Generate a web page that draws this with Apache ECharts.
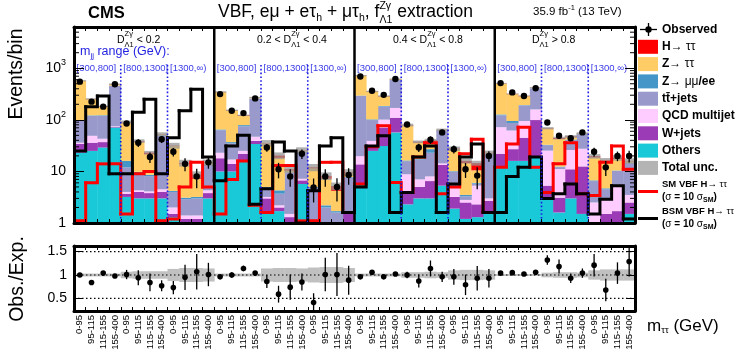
<!DOCTYPE html>
<html>
<head>
<meta charset="utf-8">
<script src="https://cdn.jsdelivr.net/npm/echarts@6/dist/echarts.min.js"></script>
<style>
  html, body { margin: 0; padding: 0; background: #fff; }
  #main { width: 747px; height: 357px; }
</style>
</head>
<body>
<div id="main"></div>
<script>
// 4 D regions x 3 mjj ranges x 4 mtt bins = 48 bins
var NB = 48;
var mttLabels = ["0-95", "95-115", "115-155", "155-400"];
var mjjLabels = ["[300,800]", "[800,1300]", "[1300,\u221e)"];

// background components, bottom to top of the stack
var others = [23, 25, 29, 71, 3.2, 3, 3, 3, 1.3, 1.0, 1.0, 3,
  10, 10, 16, 34, 1.6, 1.7, 0.3, 5.7, 0.2, 0.3, 0.2, 1,
  5.7, 25, 31, 57, 2.3, 3, 3, 5.3, 1.9, 1.2, 1.3, 1.6,
  12, 16, 16, 19, 3, 1.6, 3, 1.5, 0.2, 0.5, 0.2, 1.5];
var wjets = [11, 11, 8, 2, 0.5, 1, 0.8, 1.0, 0.2, 0.2, 0.2, 0.8,
  8, 4, 6, 5, 1.4, 0.3, 1.0, 1, 0.3, 0.1, 0.1, 0.5,
  8, 8, 40, 53, 1.5, 2, 3.5, 8, 1.3, 1.3, 1.0, 1.1,
  10, 11, 29, 80, 2.3, 1.5, 8, 11, 0.3, 1, 1.5, 1];
var qcd = [2, 13, 6, 2, 0.3, 0.3, 0.3, 0.5, 0.5, 0.2, 0.2, 0.5,
  5, 3, 3, 8, 0.2, 0.2, 0.2, 0.5, 0.3, 0.1, 0.1, 0.2,
  6, 6, 30, 60, 5, 2, 1.5, 1, 1.6, 0.3, 3, 0.3,
  50, 35, 50, 60, 20, 8, 15, 15, 2, 1.5, 3.5, 1];
var ttbar = [60, 70, 77, 380, 8, 5, 4, 45, 2, 1.5, 1.6, 9,
  40, 18, 50, 210, 1.6, 1.5, 8, 17, 4, 1.5, 1.2, 6,
  270, 60, 80, 420, 7, 10, 15, 47, 5, 0.5, 0.5, 19,
  50, 25, 95, 250, 7, 1, 15, 25, 4, 1.5, 5, 11];
var zll = [3, 3, 3, 5, 4, 0.5, 0.5, 1, 0.2, 0.2, 0.2, 0.3,
  2, 2, 4, 3, 0.2, 0.6, 0.1, 0.2, 0.2, 0.2, 0.1, 0.1,
  5, 3, 5, 3, 0.5, 0.5, 4, 1, 0.3, 0.2, 0.2, 0.2,
  5, 8, 3, 3, 0.5, 0.3, 0.5, 0.5, 0.2, 0.2, 0.2, 0.2];
var ztt = [470, 130, 57, 30, 74, 28, 13, 2, 27, 11, 4, 1,
  280, 115, 40, 10, 30, 14, 0.8, 1, 6.5, 5, 2.5, 1.5,
  420, 250, 100, 20, 62, 19, 12, 1, 17, 11, 4.5, 0.5,
  380, 220, 95, 10, 35, 30, 5, 1, 12, 11, 7, 1];
var htt = [2, 2, 3, 3, 0.5, 1, 1.5, 0.5, 0.5, 0.5, 1.5, 0.3,
  2, 1, 3, 1, 0.5, 2, 0.6, 0.3, 0.5, 1, 1, 0.3,
  3, 3, 3, 2, 1, 1, 1, 0.5, 0.5, 1.5, 4, 0.3,
  3, 3, 3, 2, 1, 2, 1, 0.5, 1, 0.5, 1, 0.3];

var observed = [550, 225, 180, 490, 85, 36, 19, 42, 24, 14, 8, 15,
  315, 150, 135, 260, 29, 11, 8, 22, 4.9, 8, 5, 8.5,
  690, 365, 305, 620, 81, 29, 41, 57, 27, 11, 8.3, 20,
  515, 340, 290, 410, 89, 49, 44, 57, 24, 12, 20, 20];

// signal templates (sigma = 10 sigma_SM)
var smVbf = [1.1, 6, 14, 14, 1.5, 9, 10, 1.1, 1.2, 5, 15, 5,
  1.5, 7, 16, 2.2, 1.6, 13, 13, 1.1, 1.1, 15, 15, 1.6,
  5.7, 30, 77, 6.1, 3.9, 19, 36, 3.7, 5, 22, 42, 1.6,
  12, 34, 72, 12, 3.9, 14, 36, 3.7, 3.4, 15, 31, 11];
var bsmVbf = [25, 180, 290, 9, 9, 140, 250, 9, 45, 150, 390, 19,
  6.6, 31, 50, 2.3, 4.6, 37, 25, 1.0, 4.2, 31, 45, 1.6,
  5, 31, 49, 1.6, 3.9, 19, 31, 1.6, 5.7, 19, 34, 1.6,
  1.6, 8, 12, 19, 3, 3.7, 5.7, 3.7, 1.5, 2.9, 5.3, 1.2];

// ratio panel
var ratio = [1.0, 0.84, 1.04, 0.98, 1.01, 0.94, 0.84, 0.77, 0.73, 0.95, 1.07, 1.01,
  0.96, 1.0, 1.14, 1.04, 0.86, 0.59, 0.74, 0.85, 0.41, 1.01, 1.01, 0.89,
  0.96, 1.06, 0.96, 1.02, 1.0, 0.87, 1.14, 0.96, 0.96, 0.79, 0.93, 0.93,
  1.04, 1.05, 1.02, 1.06, 1.32, 1.18, 0.93, 1.04, 1.21, 0.68, 1.04, 1.29];
var ratioErr = [0.03, 0.03, 0.03, 0.02, 0.1, 0.16, 0.19, 0.12, 0.14, 0.27, 0.38, 0.25,
  0.03, 0.06, 0.06, 0.03, 0.14, 0.18, 0.27, 0.18, 0.2, 0.36, 0.46, 0.31,
  0.03, 0.03, 0.03, 0.03, 0.07, 0.14, 0.17, 0.11, 0.17, 0.22, 0.26, 0.2,
  0.03, 0.03, 0.03, 0.03, 0.1, 0.15, 0.1, 0.1, 0.24, 0.24, 0.23, 0.32];
// relative total uncertainty of the expectation
var totUnc = [0.03, 0.03, 0.03, 0.03, 0.07, 0.08, 0.08, 0.08, 0.13, 0.15, 0.15, 0.14,
  0.03, 0.03, 0.03, 0.03, 0.14, 0.15, 0.15, 0.14, 0.16, 0.17, 0.17, 0.15,
  0.03, 0.03, 0.03, 0.03, 0.06, 0.06, 0.07, 0.06, 0.1, 0.11, 0.11, 0.1,
  0.02, 0.02, 0.02, 0.02, 0.05, 0.06, 0.06, 0.05, 0.1, 0.12, 0.12, 0.12];

var regionEdges = [12, 24, 36];
var mjjEdges = [4, 8, 16, 20, 28, 32, 40, 44];

var FF = '"Liberation Sans", Arial, Helvetica, sans-serif';

var comps = [
  { name: "Others", data: others, color: "#19c9d8" },
  { name: "W+jets", data: wjets, color: "#9b3cb6" },
  { name: "QCD multijet", data: qcd, color: "#ffccff" },
  { name: "tt+jets", data: ttbar, color: "#9999cc" },
  { name: "Z->ll", data: zll, color: "#4496c8" },
  { name: "Z->tautau", data: ztt, color: "#ffcc66" },
  { name: "H->tautau", data: htt, color: "#ff0000" }
];

// ---- build series data from the arrays ----
var cum = new Array(NB).fill(0);
var series = [];
comps.forEach(function (c) {
  var items = [];
  for (var i = 0; i < NB; i++) {
    var lo = cum[i], hi = cum[i] + c.data[i];
    items.push([i, Math.max(lo, 1), Math.max(hi, 1)]);
    cum[i] = hi;
  }
  series.push({
    type: "custom", name: c.name, xAxisIndex: 0, yAxisIndex: 0, z: 2, clip: true,
    encode: { x: 0, y: [1, 2] }, data: items, renderItem: stackRect(c.color)
  });
});
var expected = cum.slice();

function stackRect(color) {
  return function (params, api) {
    var w = params.coordSys.width / NB;
    var t = api.coord([api.value(0), api.value(2)]);
    var b = api.coord([api.value(0), api.value(1)]);
    return {
      type: "rect",
      shape: { x: t[0] - w / 2, y: t[1], width: w + 0.4, height: b[1] - t[1] },
      style: { fill: color }
    };
  };
}

function bandRect(fill) {
  return function (params, api) {
    var w = params.coordSys.width / NB;
    var t = api.coord([api.value(0), api.value(2)]);
    var b = api.coord([api.value(0), api.value(1)]);
    return {
      type: "rect",
      shape: { x: t[0] - w / 2, y: t[1], width: w + 0.4, height: b[1] - t[1] },
      style: { fill: fill }
    };
  };
}

function stepLine(color) {
  return function (params, api) {
    var w = params.coordSys.width / NB;
    var p = api.coord([api.value(0), api.value(1)]);
    var q = api.coord([api.value(0), api.value(2)]);
    return {
      type: "polyline",
      shape: { points: [[p[0] - w / 2, p[1]], [p[0] + w / 2, p[1]], [p[0] + w / 2, q[1]]] },
      style: { stroke: color, lineWidth: 3, fill: null, lineCap: "square" }
    };
  };
}

function pointErr(r) {
  return function (params, api) {
    var c = api.coord([api.value(0), api.value(1)]);
    var lo = api.coord([api.value(0), api.value(2)]);
    var hi = api.coord([api.value(0), api.value(3)]);
    return {
      type: "group",
      children: [
        { type: "line", shape: { x1: c[0], y1: lo[1], x2: c[0], y2: hi[1] }, style: { stroke: "#000", lineWidth: 1.3 } },
        { type: "circle", shape: { cx: c[0], cy: c[1], r: r }, style: { fill: "#000" } }
      ]
    };
  };
}

// total uncertainty on top of the stack
var uncItems = [], smItems = [], bsmItems = [], obsItems = [];
var rBand = [], rPts = [];
for (var i = 0; i < NB; i++) {
  uncItems.push([i, expected[i] * (1 - totUnc[i]), expected[i] * (1 + totUnc[i])]);
  var nx = i < NB - 1 ? i + 1 : i;
  smItems.push([i, smVbf[i], smVbf[nx]]);
  bsmItems.push([i, bsmVbf[i], bsmVbf[nx]]);
  var e = ratioErr[i] * expected[i];
  obsItems.push([i, observed[i], Math.max(observed[i] - e, 0.3), observed[i] + e]);
  rBand.push([i, 1 - totUnc[i], 1 + totUnc[i]]);
  rPts.push([i, ratio[i], ratio[i] - ratioErr[i], ratio[i] + ratioErr[i]]);
}

series.push({
  type: "custom", name: "Total unc.", xAxisIndex: 0, yAxisIndex: 0, z: 3, clip: true,
  encode: { x: 0, y: [1, 2] }, data: uncItems, renderItem: bandRect("rgba(150,150,150,0.75)")
});
series.push({
  type: "custom", name: "SM VBF", xAxisIndex: 0, yAxisIndex: 0, z: 4, clip: true,
  encode: { x: 0, y: [1, 2] }, data: smItems, renderItem: stepLine("#ff0000")
});
series.push({
  type: "custom", name: "BSM VBF", xAxisIndex: 0, yAxisIndex: 0, z: 5, clip: true,
  encode: { x: 0, y: [1, 2] }, data: bsmItems, renderItem: stepLine("#000000")
});

// region separators and mjj boundaries
series.push({
  type: "custom", xAxisIndex: 0, yAxisIndex: 0, z: 6, silent: true,
  encode: { x: 0, y: 1 },
  data: regionEdges.map(function (b) { return [b, 1]; }),
  renderItem: function (params, api) {
    var cs = params.coordSys;
    var x = cs.x + api.value(0) * cs.width / NB;
    return { type: "line", shape: { x1: x, y1: cs.y, x2: x, y2: cs.y + cs.height }, style: { stroke: "#000", lineWidth: 2.5 } };
  }
});
series.push({
  type: "custom", xAxisIndex: 0, yAxisIndex: 0, z: 6, silent: true,
  encode: { x: 0, y: 1 },
  data: mjjEdges.map(function (b) { return [b, 1]; }),
  renderItem: function (params, api) {
    var cs = params.coordSys;
    var x = cs.x + api.value(0) * cs.width / NB;
    return { type: "line", shape: { x1: x, y1: cs.y + 38, x2: x, y2: cs.y + cs.height }, style: { stroke: "#1a1ae6", lineWidth: 1.6, lineDash: [1.6, 2.2] } };
  }
});

// minor log ticks
var minorVals = [];
for (var k = 0; k < 4; k++) for (var m = 2; m < 10; m++) { var v = m * Math.pow(10, k); if (v < 6300) minorVals.push([0, v]); }
series.push({
  type: "custom", xAxisIndex: 0, yAxisIndex: 0, z: 7, silent: true,
  encode: { x: 0, y: 1 }, data: minorVals,
  renderItem: function (params, api) {
    var cs = params.coordSys;
    var y = api.coord([0, api.value(1)])[1];
    return {
      type: "group", children: [
        { type: "line", shape: { x1: cs.x, y1: y, x2: cs.x + 5, y2: y }, style: { stroke: "#000", lineWidth: 1 } },
        { type: "line", shape: { x1: cs.x + cs.width - 5, y1: y, x2: cs.x + cs.width, y2: y }, style: { stroke: "#000", lineWidth: 1 } }
      ]
    };
  }
});

series.push({
  type: "custom", name: "Observed", xAxisIndex: 0, yAxisIndex: 0, z: 8, clip: true,
  encode: { x: 0, y: [1, 2, 3] }, data: obsItems, renderItem: pointErr(3.2)
});

// ratio panel
series.push({
  type: "custom", xAxisIndex: 2, yAxisIndex: 2, z: 2, clip: true,
  encode: { x: 0, y: [1, 2] }, data: rBand, renderItem: bandRect("#c0c0c0")
});
series.push({
  type: "custom", xAxisIndex: 2, yAxisIndex: 2, z: 3, silent: true,
  encode: { x: 0, y: 1 }, data: [[0, 0.5], [0, 1], [0, 1.5]],
  renderItem: function (params, api) {
    var cs = params.coordSys;
    var y = api.coord([0, api.value(1)])[1];
    return { type: "line", shape: { x1: cs.x, y1: y, x2: cs.x + cs.width, y2: y }, style: { stroke: "#000", lineWidth: 1.2, lineDash: [1.5, 2.5] } };
  }
});
series.push({
  type: "custom", xAxisIndex: 2, yAxisIndex: 2, z: 4, clip: true,
  encode: { x: 0, y: [1, 2, 3] }, data: rPts, renderItem: pointErr(2.8)
});

// ---- axes ----
var cats = [];
for (var c = 0; c < NB; c++) cats.push(String(c));

function xAx(grid, pos, labels) {
  return {
    type: "category", gridIndex: grid, position: pos, data: cats, boundaryGap: true, z: 10,
    axisLine: { show: true, onZero: false, lineStyle: { color: "#000", width: 3 } },
    axisTick: { show: true, inside: true, length: 4, interval: 0, lineStyle: { color: "#000", width: 1 } },
    axisLabel: labels ? {
      show: true, interval: 0, rotate: 90, margin: 4, fontSize: 9.5, fontFamily: FF, color: "#000",
      formatter: function (v, idx) { return mttLabels[idx % 4]; }
    } : { show: false },
    splitLine: { show: false }
  };
}

var logLabel = {
  show: true, margin: 8, fontSize: 14, fontFamily: FF, color: "#000", lineHeight: 20,
  showMaxLabel: false,
  formatter: function (v) {
    var l = Math.log(v) / Math.LN10, e = Math.round(l);
    if (Math.abs(l - e) > 1e-6) return "";
    if (e === 0) return "1";
    if (e === 1) return "10";
    return "10{s|" + e + "}";
  },
  rich: { s: { fontSize: 9, fontFamily: FF, color: "#000", verticalAlign: "top", lineHeight: 20 } }
};

function yLog(pos, labels) {
  return {
    type: "log", logBase: 10, gridIndex: 0, position: pos, min: 1, max: 6300, z: 10,
    axisLine: { show: true, onZero: false, lineStyle: { color: "#000", width: 3 } },
    axisTick: { show: true, inside: true, length: 10, lineStyle: { color: "#000", width: 1 } },
    axisLabel: labels ? logLabel : { show: false },
    splitLine: { show: false }
  };
}

function yRatio(pos, labels) {
  return {
    type: "value", gridIndex: 1, position: pos, min: 0.23, max: 1.62, z: 10,
    axisLine: { show: true, onZero: false, lineStyle: { color: "#000", width: 3 } },
    axisTick: { show: true, inside: true, length: 8, customValues: [0.5, 1, 1.5], lineStyle: { color: "#000", width: 1 } },
    axisLabel: labels ? {
      show: true, margin: 7, fontSize: 14, fontFamily: FF, color: "#000",
      customValues: [0.5, 1, 1.5], formatter: function (v) { return String(v); }
    } : { show: false },
    splitLine: { show: false }
  };
}

// ---- text helpers ----
var mctx = document.createElement("canvas").getContext("2d");
function fontOf(size, bold) { return (bold ? "bold " : "") + size + "px " + FF; }
// parts: [text, size, dy, flags]  flags: b = bold, s = stack next part at same x
function seq(x, y, parts, color) {
  var out = [], cx = x, stayW = 0;
  parts.forEach(function (p) {
    var f = p[3] || "";
    var font = fontOf(p[1], f.indexOf("b") >= 0);
    mctx.font = font;
    var w = mctx.measureText(p[0]).width;
    out.push({
      type: "text", x: cx, y: y + p[2], silent: true,
      style: { text: p[0], font: font, fill: color || "#000", align: "left", verticalAlign: "middle", textAlign: "left", textVerticalAlign: "middle" }
    });
    if (f.indexOf("s") >= 0) { stayW = w; } else { cx += Math.max(w, stayW); stayW = 0; }
  });
  return out;
}

var G = [];
G = G.concat(seq(88, 13, [["CMS", 16.5, 0, "b"]]));
G = G.concat(seq(218, 12, [
  ["VBF, e\u03bc + e\u03c4", 17.5, 0], ["h", 10.5, 6], [" + \u03bc\u03c4", 17.5, 0], ["h", 10.5, 6],
  [", f", 17.5, 0], ["Z\u03b3", 10.5, -6, "s"], ["\u039b1", 10.5, 8], [" extraction", 17.5, 0]
]));
G = G.concat(seq(533, 12, [["35.9 fb", 11.5, 0], ["-1", 7.5, -4], [" (13 TeV)", 11.5, 0]]));

// D region labels
function dParts(pre, post) {
  var p = [];
  if (pre) p.push([pre, 10.5, 0]);
  p.push(["D", 10.5, 0], ["Z\u03b3", 7.5, -6, "s"], ["\u039b1", 7.5, 5], [post, 10.5, 0]);
  return p;
}
G = G.concat(seq(117, 40, dParts("", " < 0.2")));
G = G.concat(seq(257, 40, dParts("0.2 < ", " < 0.4")));
G = G.concat(seq(393, 40, dParts("0.4 < ", " < 0.8")));
G = G.concat(seq(532, 40, dParts("", " > 0.8")));
G = G.concat(seq(80, 52, [["m", 12.5, 0], ["jj", 8, 4], [" range (GeV):", 12.5, 0]], "#1f1fe0"));

// mjj range labels, placed just right of each range start
var x0 = 74, bw = 561 / NB;
for (var r = 0; r < 4; r++) {
  for (var j = 0; j < 3; j++) {
    G = G.concat(seq(x0 + (r * 12 + j * 4) * bw + 2.5, 68.5, [[mjjLabels[j], 9.5, 0]], "#3a3ae8"));
  }
}

// axis titles
G.push({ type: "text", x: 17, y: 74, rotation: Math.PI / 2, silent: true,
  style: { text: "Events/bin", font: fontOf(19.5), fill: "#000", align: "center", verticalAlign: "middle", textAlign: "center", textVerticalAlign: "middle" } });
G.push({ type: "text", x: 18, y: 279, rotation: Math.PI / 2, silent: true,
  style: { text: "Obs./Exp.", font: fontOf(19.5), fill: "#000", align: "center", verticalAlign: "middle", textAlign: "center", textVerticalAlign: "middle" } });
G = G.concat(seq(647, 326, [["m", 17, 0], ["\u03c4\u03c4", 9.5, 4], [" (GeV)", 17, 0]]));

// legend
var richL = {
  b: { font: fontOf(12, true), fill: "#000" },
  g: { font: fontOf(12), fill: "#000" }
};
G.push({ type: "line", shape: { x1: 640, y1: 29.5, x2: 657, y2: 29.5 }, style: { stroke: "#000", lineWidth: 1.3 } });
G.push({ type: "line", shape: { x1: 648.5, y1: 23, x2: 648.5, y2: 36 }, style: { stroke: "#000", lineWidth: 1.3 } });
G.push({ type: "circle", shape: { cx: 648.5, cy: 29.5, r: 3.2 }, style: { fill: "#000" } });
G = G.concat(seq(662, 29.5, [["Observed", 12, 0, "b"]]));

var legRows = [
  ["{b|H\u2192 }{g|\u03c4\u03c4}", "#ff0000"],
  ["{b|Z\u2192 }{g|\u03c4\u03c4}", "#ffcc66"],
  ["{b|Z\u2192 }{g|\u03bc\u03bc}{b|/ee}", "#4496c8"],
  ["{b|tt\u0304+jets}", "#9999cc"],
  ["{b|QCD multijet}", "#ffccff"],
  ["{b|W+jets}", "#9b3cb6"],
  ["{b|Others}", "#19c9d8"],
  ["{b|Total unc.}", "#b4b4b4"]
];
legRows.forEach(function (row, k) {
  var yc = 46.8 + k * 17.3;
  G.push({ type: "rect", shape: { x: 638, y: yc - 7, width: 20, height: 14 }, style: { fill: row[1] } });
  G.push({ type: "text", x: 662, y: yc, silent: true,
    style: { text: row[0], rich: richL, font: fontOf(12, true), fill: "#000", align: "left", verticalAlign: "middle", textAlign: "left", textVerticalAlign: "middle" } });
});

function sigLegend(yLine, color) {
  G.push({ type: "line", shape: { x1: 638, y1: yLine, x2: 658, y2: yLine }, style: { stroke: color, lineWidth: 3 } });
  G.push({ type: "text", x: 662, y: yLine - 7, silent: true,
    style: { text: (color === "#000" ? "{b|BSM VBF H\u2192 }{g|\u03c4\u03c4}" : "{b|SM VBF H\u2192 }{g|\u03c4\u03c4}"),
      rich: { b: { font: fontOf(9.5, true), fill: "#000" }, g: { font: fontOf(9.5), fill: "#000" } },
      font: fontOf(9.5, true), align: "left", verticalAlign: "middle", textAlign: "left", textVerticalAlign: "middle" } });
  G = G.concat(seq(662, yLine + 6, [["(", 10, 0, "b"], ["\u03c3", 10, 0], [" = 10 ", 10, 0, "b"], ["\u03c3", 10, 0], ["SM", 7, 3, "b"], [")", 10, 0, "b"]]));
}
sigLegend(191.5, "#ff0000");
sigLegend(218.5, "#000");

var chart = echarts.init(document.getElementById("main"), null, { renderer: "canvas" });
chart.setOption({
  backgroundColor: "#fff",
  animation: false,
  grid: [
    { left: 74, top: 27, width: 561, height: 196, containLabel: false },
    { left: 74, top: 246, width: 561, height: 65, containLabel: false }
  ],
  xAxis: [xAx(0, "bottom", false), xAx(0, "top", false), xAx(1, "bottom", true), xAx(1, "top", false)],
  yAxis: [yLog("left", true), yLog("right", false), yRatio("left", true), yRatio("right", false)],
  series: series,
  graphic: { elements: G }
});
</script>
</body>
</html>
